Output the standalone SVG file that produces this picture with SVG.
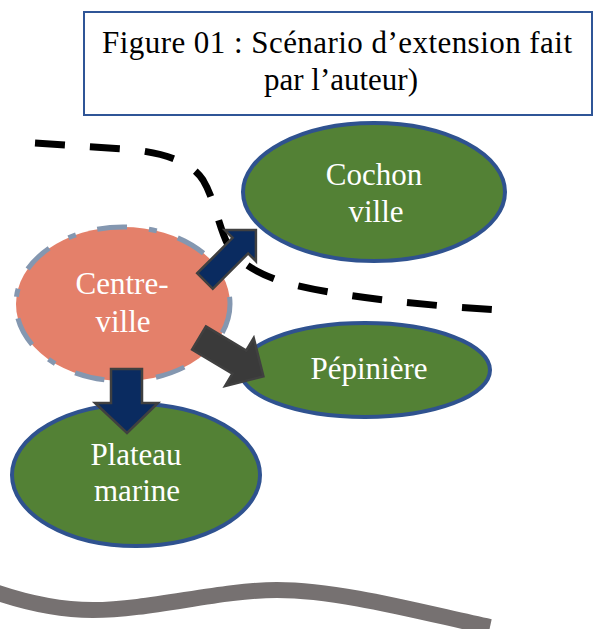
<svg xmlns="http://www.w3.org/2000/svg" width="596" height="629" viewBox="0 0 596 629">
  <style>
    .lbl { font-family: "Liberation Serif", "Times New Roman", serif; font-size: 31px; fill: #ffffff; text-anchor: middle; }
    .ttl { font-family: "Liberation Serif", "Times New Roman", serif; font-size: 31px; fill: #000000; text-anchor: middle; }
    .green { fill: #538135; stroke: #2F528F; stroke-width: 4; }
    .navy { fill: #0A2B60; stroke: #404040; stroke-width: 2.5; stroke-linejoin: miter; }
    .dark { fill: #3A3A3A; stroke: #404040; stroke-width: 2.5; }
  </style>
  <rect width="596" height="629" fill="#ffffff"/>

  <g id="title">
    <rect x="84" y="12" width="508" height="103" fill="#ffffff" stroke="#2F5597" stroke-width="2"/>
    <text class="ttl" x="337" y="53" textLength="470" lengthAdjust="spacing">Figure 01 : Scénario d’extension fait</text>
    <text class="ttl" x="341" y="90">par l’auteur)</text>
  </g>

  <g id="boundary">
    <path d="M35,143 L125,149 C160,152 190,160 203,180 C215,200 218,225 228,245 C238,262 255,272 280,281 C330,296 420,305 498,310" fill="none" stroke="#000000" stroke-width="7" stroke-dasharray="30 25"/>
  </g>

  <g id="coast">
    <path d="M-5,592 C30,604 60,610 93,610 C150,610 220,590 277,590 C340,590 420,612 490,627" fill="none" stroke="#767171" stroke-width="16"/>
  </g>

  <g id="cochon-ville">
    <ellipse class="green" cx="374" cy="192" rx="131" ry="69"/>
    <text class="lbl" x="374" y="185">Cochon</text>
    <text class="lbl" x="376" y="222">ville</text>
  </g>

  <g id="pepiniere">
    <ellipse class="green" cx="365" cy="370" rx="125" ry="47"/>
    <text class="lbl" x="369" y="379">Pépinière</text>
  </g>

  <g id="plateau-marine">
    <ellipse class="green" cx="136" cy="475" rx="124" ry="71"/>
    <text class="lbl" x="136" y="465">Plateau</text>
    <text class="lbl" x="137" y="501">marine</text>
  </g>

  <g id="centre-ville">
    <ellipse cx="123" cy="304" rx="107" ry="77" fill="#E4806A" stroke="#8497B0" stroke-width="5" stroke-dasharray="30 22 8 22"/>
    <text class="lbl" x="122" y="294">Centre-</text>
    <text class="lbl" x="123" y="332">ville</text>
  </g>

  <g id="connectors">
    <polygon class="navy" points="0,-11 50,-11 50,-22 72,0 50,22 50,11 0,11" transform="translate(205,281) rotate(-45)"/>
    <polygon class="dark" points="0,-13.5 47,-13.5 47,-28 75,0 47,28 47,13.5 0,13.5" transform="translate(199,338) rotate(30.8)"/>
    <polygon class="navy" points="111,369 142,369 142,403 158,403 127,433 95,403 111,403"/>
  </g>
</svg>
